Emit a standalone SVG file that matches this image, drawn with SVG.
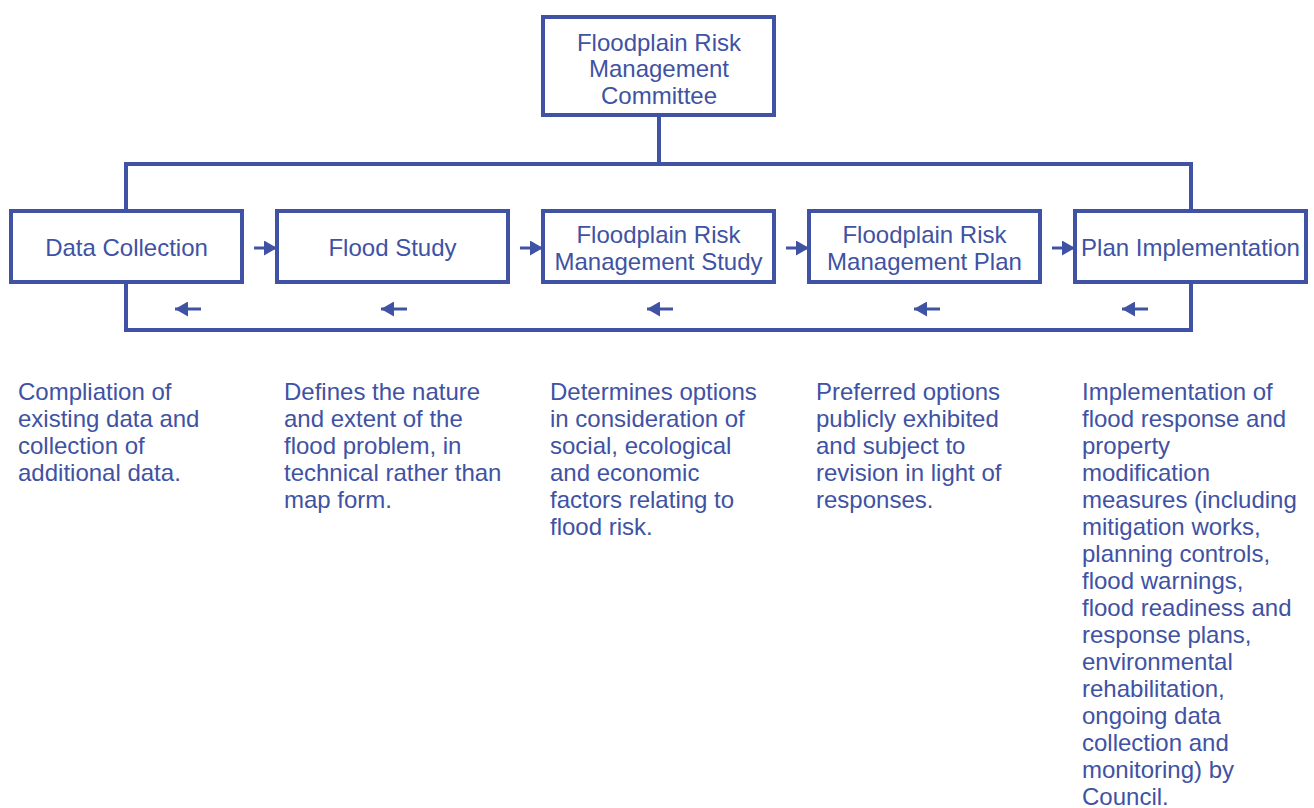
<svg xmlns="http://www.w3.org/2000/svg" width="1314" height="808" viewBox="0 0 1314 808">
<style>
.box{fill:#fff;stroke:#4052A3;stroke-width:4}
.ln{fill:none;stroke:#4052A3;stroke-width:4}
.ar{stroke:#4052A3;stroke-width:3;fill:none}
.t{font-family:"Liberation Sans",Arial,sans-serif;font-size:24px;fill:#4052A3}
.c{text-anchor:middle}
</style>
<defs>
<marker id="ah" markerWidth="14" markerHeight="15" refX="13" refY="7.5" orient="auto" markerUnits="userSpaceOnUse">
<path d="M0,0 L13,7.5 L0,15 Z" fill="#4052A3"/>
</marker>
</defs>
<rect width="1314" height="808" fill="#fff"/>
<g id="connectors">
<path class="ln" d="M659,115 V164 M126,211 V164 H1191 V211"/>
<path class="ln" d="M126,282 V330 H1191 V282"/>
<line class="ar" x1="254" y1="248" x2="277" y2="248" marker-end="url(#ah)"/>
<line class="ar" x1="520" y1="248" x2="543" y2="248" marker-end="url(#ah)"/>
<line class="ar" x1="786" y1="248" x2="809" y2="248" marker-end="url(#ah)"/>
<line class="ar" x1="1052" y1="248" x2="1075" y2="248" marker-end="url(#ah)"/>
<line class="ar" x1="201" y1="309" x2="175" y2="309" marker-end="url(#ah)"/>
<line class="ar" x1="407" y1="309" x2="381" y2="309" marker-end="url(#ah)"/>
<line class="ar" x1="673" y1="309" x2="647" y2="309" marker-end="url(#ah)"/>
<line class="ar" x1="940" y1="309" x2="914" y2="309" marker-end="url(#ah)"/>
<line class="ar" x1="1148" y1="309" x2="1122" y2="309" marker-end="url(#ah)"/>
</g>
<g id="committee">
<rect class="box" x="543" y="17" width="231" height="98"/>
<text class="t c"><tspan x="659" y="50.5">Floodplain Risk</tspan><tspan x="659" y="77">Management</tspan><tspan x="659" y="103.5">Committee</tspan></text>
</g>
<g id="data-collection">
<rect class="box" x="11" y="211" width="231" height="71"/>
<text class="t c" x="126.5" y="255.5">Data Collection</text>
</g>
<g id="flood-study">
<rect class="box" x="277" y="211" width="231" height="71"/>
<text class="t c" x="392.5" y="255.5">Flood Study</text>
</g>
<g id="frm-study">
<rect class="box" x="543" y="211" width="231" height="71"/>
<text class="t c"><tspan x="658.5" y="242.5">Floodplain Risk</tspan><tspan x="658.5" y="269.5">Management Study</tspan></text>
</g>
<g id="frm-plan">
<rect class="box" x="809" y="211" width="231" height="71"/>
<text class="t c"><tspan x="924.5" y="242.5">Floodplain Risk</tspan><tspan x="924.5" y="269.5">Management Plan</tspan></text>
</g>
<g id="plan-implementation">
<rect class="box" x="1075" y="211" width="231" height="71"/>
<text class="t c" x="1190.5" y="255.5">Plan Implementation</text>
</g>
<g id="descriptions">
<text class="t"><tspan x="18" y="400">Compliation of</tspan><tspan x="18" y="427">existing data and</tspan><tspan x="18" y="454">collection of</tspan><tspan x="18" y="481">additional data.</tspan></text>
<text class="t"><tspan x="284" y="400">Defines the nature</tspan><tspan x="284" y="427">and extent of the</tspan><tspan x="284" y="454">flood problem, in</tspan><tspan x="284" y="481">technical rather than</tspan><tspan x="284" y="508">map form.</tspan></text>
<text class="t"><tspan x="550" y="400">Determines options</tspan><tspan x="550" y="427">in consideration of</tspan><tspan x="550" y="454">social, ecological</tspan><tspan x="550" y="481">and economic</tspan><tspan x="550" y="508">factors relating to</tspan><tspan x="550" y="535">flood risk.</tspan></text>
<text class="t"><tspan x="816" y="400">Preferred options</tspan><tspan x="816" y="427">publicly exhibited</tspan><tspan x="816" y="454">and subject to</tspan><tspan x="816" y="481">revision in light of</tspan><tspan x="816" y="508">responses.</tspan></text>
<text class="t"><tspan x="1082" y="400">Implementation of</tspan><tspan x="1082" y="427">flood response and</tspan><tspan x="1082" y="454">property</tspan><tspan x="1082" y="481">modification</tspan><tspan x="1082" y="508">measures (including</tspan><tspan x="1082" y="535">mitigation works,</tspan><tspan x="1082" y="562">planning controls,</tspan><tspan x="1082" y="589">flood warnings,</tspan><tspan x="1082" y="616">flood readiness and</tspan><tspan x="1082" y="643">response plans,</tspan><tspan x="1082" y="670">environmental</tspan><tspan x="1082" y="697">rehabilitation,</tspan><tspan x="1082" y="724">ongoing data</tspan><tspan x="1082" y="751">collection and</tspan><tspan x="1082" y="778">monitoring) by</tspan><tspan x="1082" y="805">Council.</tspan></text>
</g>
</svg>
